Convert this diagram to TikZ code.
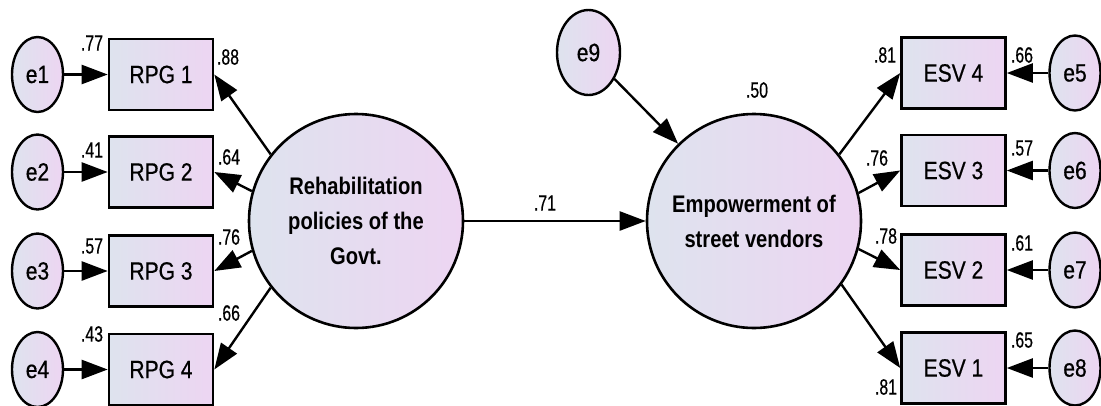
\documentclass[tikz,border=0pt]{standalone}
\usepackage{fontspec}
\setmainfont{Liberation Sans}
\newfontfamily\nf[FakeStretch=0.84,FakeBold=0.6]{Liberation Sans}
\newfontfamily\nfb[FakeStretch=0.84]{Liberation Sans Bold}
\newfontfamily\lf[FakeStretch=0.72,FakeBold=0.5]{Liberation Sans}
\usetikzlibrary{shapes.geometric,arrows.meta}
\definecolor{fa}{HTML}{DEE3EE}
\definecolor{fb}{HTML}{EDD5F2}
\begin{document}
\begin{tikzpicture}[x=1pt,y=-1pt,
  fillgrad/.style={left color=fa, right color=fb},
  obs/.style={draw, rectangle, line width=2.6pt, minimum width=104pt, minimum height=71pt, inner sep=0pt, fillgrad, font=\nf\fontsize{25}{30}\selectfont},
  err/.style={draw, ellipse, line width=2.4pt, minimum width=51pt, minimum height=75pt, inner sep=0pt, fillgrad, font=\nf\fontsize{25}{30}\selectfont},
  lat/.style={draw, circle, line width=2.6pt, minimum size=214pt, inner sep=0pt, fillgrad, align=center, font=\nfb\fontsize{24}{35}\selectfont},
  lbl/.style={inner sep=0pt, font=\lf\fontsize{22}{22}\selectfont},
  arr/.style={line width=2.4pt, -{Triangle[length=26pt,width=19pt]}}
]
\useasboundingbox (0,0) rectangle (1101,405);

% left latent and indicators
\node[lat] (L) at (356,221) {Rehabilitation\\policies of the\\Govt.};
\node[obs] (R1) at (161,74.5) {RPG 1};
\node[obs] (R2) at (161,172) {RPG 2};
\node[obs] (R3) at (161,271) {RPG 3};
\node[obs] (R4) at (161,369.5) {RPG 4};
\node[err] (e1) at (37.5,74.5) {e1};
\node[err] (e2) at (37.5,172) {e2};
\node[err] (e3) at (37.5,271) {e3};
\node[err] (e4) at (37.5,369.5) {e4};

% right latent and indicators
\node[lat] (E) at (754,221) {Empowerment of\\street vendors};
\node[obs] (S4) at (953.5,73) {ESV 4};
\node[obs] (S3) at (953.5,170.5) {ESV 3};
\node[obs] (S2) at (953.5,270) {ESV 2};
\node[obs] (S1) at (953.5,368) {ESV 1};
\node[err] (e5) at (1075,73) {e5};
\node[err] (e6) at (1075,170.5) {e6};
\node[err] (e7) at (1075,270) {e7};
\node[err] (e8) at (1075,368) {e8};
\node[err, minimum width=63pt, minimum height=85pt] (e9) at (588.5,52.5) {e9};

% connectors
\draw[arr] (e1) -- (R1);
\draw[arr] (e2) -- (R2);
\draw[arr] (e3) -- (R3);
\draw[arr] (e4) -- (R4);
\draw[arr] (L.142) -- (R1.east);
\draw[arr] (L.164) -- (R2.east);
\draw[arr] (L.196) -- (R3.east);
\draw[arr] (L.218) -- (R4.east);
\draw[arr] (L) -- (E);
\draw[arr] (e9) -- (E);
\draw[arr] (E.38) -- (S4.west);
\draw[arr] (E.15) -- (S3.west);
\draw[arr] (E.-15) -- (S2.west);
\draw[arr] (E.-36) -- (S1.west);
\draw[arr] (e5) -- (S4);
\draw[arr] (e6) -- (S3);
\draw[arr] (e7) -- (S2);
\draw[arr] (e8) -- (S1);

% labels
\node[lbl] (l77) at (92,43) {.77};
\node[lbl] (l88) at (228,57) {.88};
\node[lbl] (l41) at (92,150) {.41};
\node[lbl] (l64) at (229,157) {.64};
\node[lbl] (l57a) at (92,246) {.57};
\node[lbl] (l76a) at (229,237) {.76};
\node[lbl] (l66a) at (229,313) {.66};
\node[lbl] (l43) at (92,334) {.43};
\node[lbl] (l71) at (545,203) {.71};
\node[lbl] (l50) at (757,90) {.50};
\node[lbl] (l81a) at (885,55) {.81};
\node[lbl] (l66b) at (1022,55) {.66};
\node[lbl] (l76b) at (877,158) {.76};
\node[lbl] (l57b) at (1022,148) {.57};
\node[lbl] (l78) at (886,236) {.78};
\node[lbl] (l61) at (1022,243) {.61};
\node[lbl] (l65) at (1022,340) {.65};
\node[lbl] (l81b) at (886,387) {.81};
\end{tikzpicture}
\end{document}
